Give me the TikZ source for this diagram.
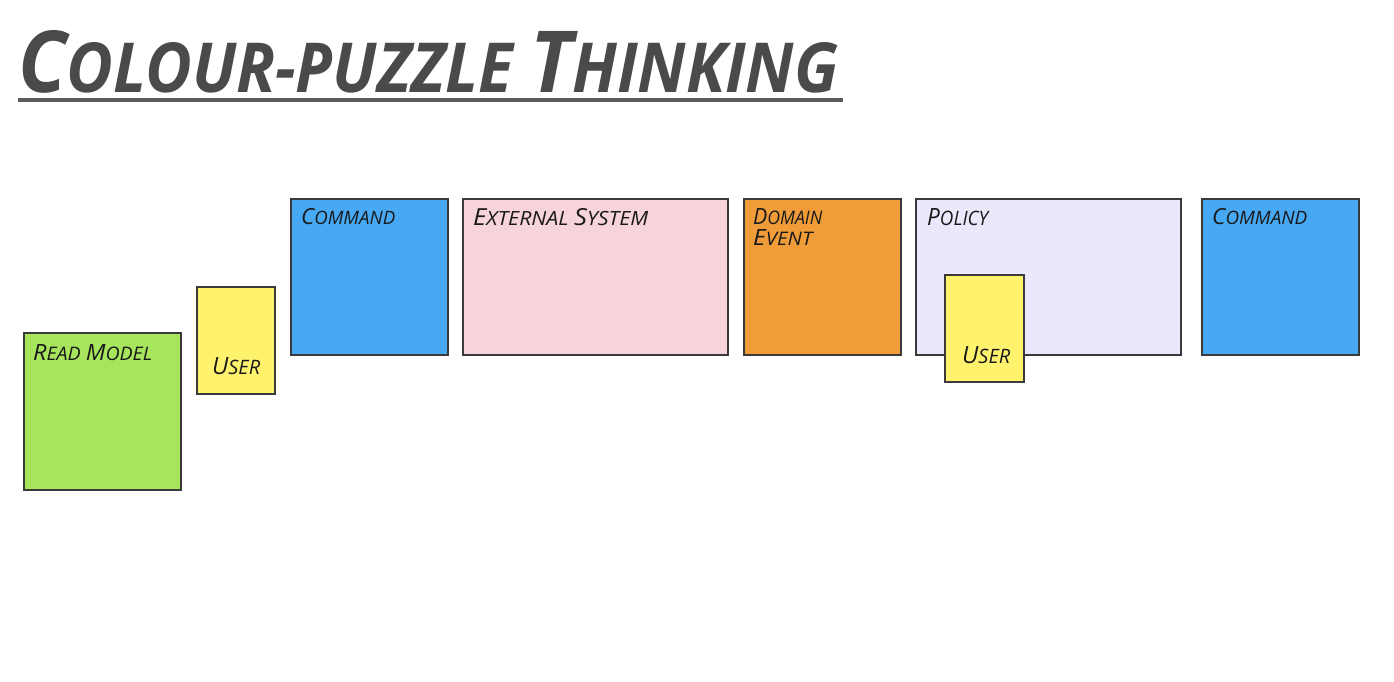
\documentclass[tikz,border=0pt]{standalone}
\usepackage{fontspec}
\setmainfont{Open Sans}
\usepackage{graphicx}
\definecolor{cgreen}{HTML}{A6E55C}
\definecolor{cyellow}{HTML}{FFF36E}
\definecolor{cblue}{HTML}{47A9F4}
\definecolor{cpink}{HTML}{F7D3DB}
\definecolor{corange}{HTML}{F09D39}
\definecolor{clav}{HTML}{ECE8FB}
\definecolor{cedge}{HTML}{3A3A3A}
\definecolor{ctitle}{HTML}{4A4A4A}
\newcommand\BG[1]{\scalebox{1.2}{#1}}
\newcommand\TB[1]{\scalebox{1.24}{#1}}
\tikzset{
  sticky/.style={draw=cedge, line width=1.3pt},
  lbl/.style={inner sep=0pt, anchor=north west, text=black!90, font=\itshape},
}
\begin{document}
\begin{tikzpicture}[x=1pt,y=-1pt]
\fill[white] (0,0) rectangle (1394,682);
\useasboundingbox (0,0) rectangle (1394,682);
% title
\node[inner sep=0pt, anchor=north west, text=ctitle, font=\bfseries\itshape] (title) at (18,30)
  {\resizebox{820pt}{62pt}{\TB{C}OLOUR-PUZZLE \TB{T}HINKING}};
\coordinate (ul1) at (18,100);
\coordinate (ul2) at (843,100);
\draw[ctitle!90, line width=4pt] (ul1) -- (ul2);
% boxes
\draw[sticky, fill=cgreen] (24,333) rectangle (181,490);
\node[inner sep=0pt] (readmodel) at (102.5,411.5) {};
\draw[sticky, fill=cyellow] (197,287) rectangle (275,394);
\node[inner sep=0pt] (user1) at (236,340) {};
\draw[sticky, fill=cblue] (291,199) rectangle (448,355);
\node[inner sep=0pt] (command1) at (369,277) {};
\draw[sticky, fill=cpink] (463,199) rectangle (728,355);
\node[inner sep=0pt] (external) at (595,277) {};
\draw[sticky, fill=corange] (744,199) rectangle (901,355);
\node[inner sep=0pt] (domain) at (822,277) {};
\draw[sticky, fill=clav] (916,199) rectangle (1181,355);
\node[inner sep=0pt] (policy) at (1048,277) {};
\draw[sticky, fill=cblue] (1202,199) rectangle (1359,355);
\node[inner sep=0pt] (command2) at (1280,277) {};
\draw[sticky, fill=cyellow] (945,275) rectangle (1024,382);
\node[inner sep=0pt] (user2) at (984,328) {};
% labels
\node[lbl] (t-read) at (33,344) {\resizebox{119pt}{16pt}{\BG{R}EAD \BG{M}ODEL}};
\node[lbl] (t-user1) at (212,357) {\resizebox{48pt}{17pt}{\BG{U}SER}};
\node[lbl] (t-cmd1) at (301,208) {\resizebox{94pt}{16pt}{\BG{C}OMMAND}};
\node[lbl] (t-ext) at (473,208) {\resizebox{175pt}{17pt}{\BG{E}XTERNAL \BG{S}YSTEM}};
\node[lbl] (t-dom) at (753,208) {\resizebox{69pt}{16pt}{\BG{D}OMAIN}};
\node[lbl] (t-evt) at (753,229) {\resizebox{59pt}{16pt}{\BG{E}VENT}};
\node[lbl] (t-pol) at (927,208) {\resizebox{61pt}{17pt}{\BG{P}OLICY}};
\node[lbl] (t-cmd2) at (1212,208) {\resizebox{95pt}{16pt}{\BG{C}OMMAND}};
\node[lbl] (t-user2) at (962,346) {\resizebox{48pt}{17pt}{\BG{U}SER}};
\end{tikzpicture}
\end{document}
